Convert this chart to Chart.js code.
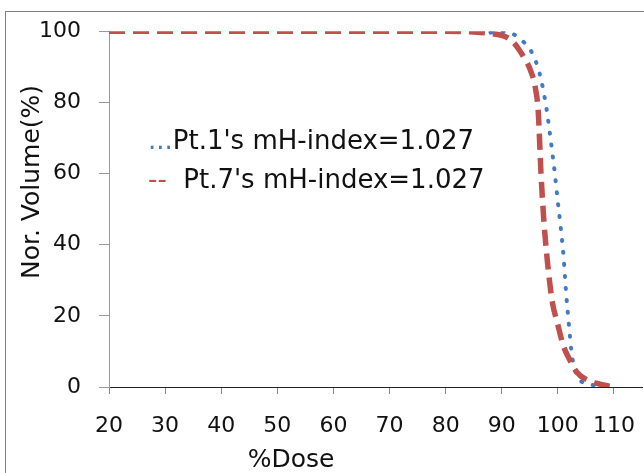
<!DOCTYPE html>
<html>
<head>
<meta charset="utf-8">
<script src="https://cdn.jsdelivr.net/npm/chart.js@4.4.1/dist/chart.umd.min.js"></script>
<style>
  html, body { margin: 0; padding: 0; background: #fff; }
</style>
</head>
<body>
<canvas id="dvhChart" width="644" height="473"></canvas>
<script>
// dose-volume histogram for two patients
const seriesNames = ["Pt.1's mH-index=1.027", "Pt.7's mH-index=1.027"];
const legendMarks = ['...', '--  '];

const pt1Dose = [88, 90, 92, 93, 94, 95, 96, 97, 98, 99, 99.5, 100, 100.5, 101, 101.5, 102, 102.5, 103, 103.5, 104, 105, 107, 110];
const pt1Volume = [99.6, 99.8, 99.2, 98.2, 96.8, 95, 91.8, 86.5, 78, 66, 59.5, 52, 45, 37, 26, 17, 9, 5, 3, 1.8, 1, 0.4, 0];

const pt7Dose = [20, 30, 40, 50, 60, 70, 80, 85, 88, 90, 91, 92, 93, 94, 95, 96, 96.5, 97, 97.5, 98, 98.5, 99, 100, 101, 102, 103, 104, 105, 107, 110];
const pt7Volume = [100, 100, 100, 100, 100, 100, 100, 99.8, 99.4, 98.8, 98.2, 97, 95, 92.5, 89.5, 84, 77.5, 60, 47, 37.5, 30, 24, 17.5, 11.5, 8, 5, 3.2, 2.2, 1, 0];

const doseTicks = [20, 30, 40, 50, 60, 70, 80, 90, 100, 110];
const volumeTicks = [0, 20, 40, 60, 80, 100];

function toPoints(xs, ys) {
    return xs.map((x, i) => ({ x: x, y: ys[i] }));
}

const tickFont = { family: 'DejaVu Sans', size: 22 };

// white background, outer frame, in-plot legend and axis titles
const frameAndText = {
    id: 'frameAndText',
    beforeDraw(chart) {
        const ctx = chart.ctx;
        ctx.save();
        ctx.fillStyle = '#fff';
        ctx.fillRect(0, 0, chart.width, chart.height);
        ctx.strokeStyle = '#808080';
        ctx.lineWidth = 1;
        ctx.strokeRect(5.5, 11.5, chart.width + 20, chart.height + 20);
        ctx.restore();
    },
    afterDraw(chart) {
        const ctx = chart.ctx;
        const area = chart.chartArea;
        ctx.save();
        ctx.font = '26px "DejaVu Sans"';
        ctx.textBaseline = 'alphabetic';
        chart.data.datasets.forEach((ds, i) => {
            const x = area.left + 39;
            const y = area.top + 118 + i * 39;
            ctx.fillStyle = ds.borderColor;
            ctx.fillText(legendMarks[i], x, y);
            const w = ctx.measureText(legendMarks[i]).width;
            ctx.fillStyle = '#111';
            ctx.fillText(ds.label, x + w, y);
        });

        ctx.fillStyle = '#111';
        ctx.font = '25px "DejaVu Sans"';
        ctx.textAlign = 'center';
        ctx.fillText('%Dose', 291, 467);
        ctx.translate(39, 182);
        ctx.rotate(-Math.PI / 2);
        ctx.fillText('Nor. Volume(%)', 0, 0);
        ctx.restore();
    }
};

new Chart(document.getElementById('dvhChart'), {
    type: 'line',
    data: {
        datasets: [{
            label: seriesNames[0],
            data: toPoints(pt1Dose, pt1Volume),
            borderColor: '#4479C4',
            borderWidth: 4,
            borderDash: [1, 11],
            borderCapStyle: 'round',
            cubicInterpolationMode: 'monotone',
            order: 2
        }, {
            label: seriesNames[1],
            data: toPoints(pt7Dose, pt7Volume),
            borderColor: '#C0504D',
            borderWidth: 5.5,
            borderDash: [16, 8],
            cubicInterpolationMode: 'monotone',
            order: 1
        }]
    },
    options: {
        responsive: false,
        animation: false,
        layout: { padding: { left: 0, top: 30, right: 2, bottom: 0 } },
        elements: { point: { radius: 0 } },
        plugins: {
            legend: { display: false },
            tooltip: { enabled: false }
        },
        scales: {
            x: {
                type: 'linear',
                min: 20,
                max: 115,
                afterBuildTicks: scale => {
                    scale.ticks = doseTicks.map(v => ({ value: v }));
                },
                afterFit: scale => {
                    scale.height = 86;
                    scale.paddingLeft = 0;
                    scale.paddingRight = 0;
                },
                ticks: { font: tickFont, color: '#111', padding: 19, maxRotation: 0, autoSkip: false },
                grid: { drawOnChartArea: false, tickLength: 7, color: '#888' },
                border: { color: '#222', width: 1 }
            },
            y: {
                min: 0,
                max: 100,
                afterBuildTicks: scale => {
                    scale.ticks = volumeTicks.map(v => ({ value: v }));
                },
                afterFit: scale => {
                    scale.width = 109;
                },
                ticks: { font: tickFont, color: '#111', padding: 18 },
                grid: { drawOnChartArea: false, tickLength: 10, color: '#999' },
                border: { color: '#999', width: 1 }
            }
        }
    },
    plugins: [frameAndText]
});
</script>
</body>
</html>
